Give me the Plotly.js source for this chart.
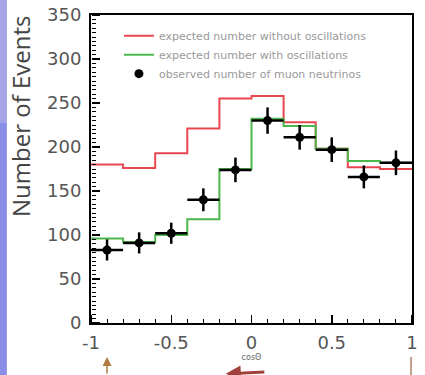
<!DOCTYPE html>
<html>
<head>
<meta charset="utf-8">
<script src="https://cdn.plot.ly/plotly-3.0.1.min.js"></script>
<style>
html,body{margin:0;padding:0;background:#fff;}
#chart{width:425px;height:375px;}
</style>
</head>
<body>
<div id="chart"></div>
<script>
// Bin edges in cos(theta)
const binEdges = [-1, -0.8, -0.6, -0.4, -0.2, 0, 0.2, 0.4, 0.6, 0.8, 1];
const binCenters = [-0.9, -0.7, -0.5, -0.3, -0.1, 0.1, 0.3, 0.5, 0.7, 0.9];
// Expected number without oscillations (red)
const expectedNoOsc = [180, 176, 193, 221, 255, 258, 228, 198, 177, 175];
// Expected number with oscillations (green)
const expectedOsc = [96, 92, 100, 118, 175, 232, 224, 198, 184, 182];
// Observed number of muon neutrinos
const observed = [83, 91, 102, 140, 174, 230, 211, 197, 166, 182];
const observedErr = [12, 12, 12, 13, 14, 15, 14, 14, 13, 14];
const binHalfWidth = [0.1, 0.1, 0.1, 0.1, 0.1, 0.1, 0.1, 0.1, 0.1, 0.1];

const legendNames = [
  "expected number without oscillations",
  "expected number with oscillations",
  "observed number of muon neutrinos"
];
const yTickVals = [0, 50, 100, 150, 200, 250, 300, 350];
const xTickVals = [-1, -0.5, 0, 0.5, 1];
const xTickText = ["-1", "-0.5", "0", "0.5", "1"];

function stepY(vals){ return vals.concat([vals[vals.length-1]]); }

const traces = [
  {
    x: binEdges, y: stepY(expectedNoOsc), type: 'scatter', mode: 'lines',
    line: {shape: 'hv', color: '#e8474f', width: 2},
    name: legendNames[0]
  },
  {
    x: binEdges, y: stepY(expectedOsc), type: 'scatter', mode: 'lines',
    line: {shape: 'hv', color: '#4cb84c', width: 2},
    name: legendNames[1]
  },
  {
    x: binCenters, y: observed, type: 'scatter', mode: 'markers',
    marker: {color: '#000', size: 9},
    error_y: {type: 'data', array: observedErr, color: '#000', thickness: 2.5, width: 0},
    error_x: {type: 'data', array: binHalfWidth, color: '#000', thickness: 2.5, width: 0},
    name: legendNames[2]
  },
  // invisible helper trace so the tick-only overlay axes are drawn
  {
    x: [-1, 1], y: [0, 350], xaxis: 'x2', yaxis: 'y2', type: 'scatter', mode: 'markers',
    marker: {opacity: 0}, showlegend: false, hoverinfo: 'skip'
  }
];

const tickFont = {family: 'DejaVu Sans', size: 18, color: '#555'};

const layout = {
  width: 425, height: 375,
  margin: {l: 91, r: 13, t: 15, b: 52},
  paper_bgcolor: '#fff', plot_bgcolor: '#fff',
  showlegend: true,
  legend: {
    x: 0.087, y: 0.98, xanchor: 'left', yanchor: 'top',
    bgcolor: 'rgba(0,0,0,0)', borderwidth: 0,
    font: {family: 'DejaVu Sans', size: 11, color: '#999'},
    tracegroupgap: 0
  },
  xaxis: {
    range: [-1, 1], tickmode: 'array', tickvals: xTickVals, ticktext: xTickText,
    ticks: '', showgrid: false, zeroline: false,
    showline: true, linecolor: '#000', linewidth: 2, mirror: true,
    tickfont: tickFont, ticklabelstandoff: 2,
    title: {text: 'cosΘ', font: {family: 'DejaVu Sans', size: 8, color: '#666'}, standoff: 2}
  },
  yaxis: {
    range: [0, 350], tickmode: 'array', tickvals: yTickVals,
    ticks: '', showgrid: false, zeroline: false,
    showline: true, linecolor: '#000', linewidth: 2, mirror: true,
    tickfont: tickFont, ticklabelstandoff: 4
  },
  // tick-only axes: drawn on the opposite side at the frame edge, so "outside" ticks point into the plot
  xaxis2: {
    overlaying: 'x', anchor: 'free', position: 0, side: 'top', range: [-1, 1],
    tickmode: 'linear', tick0: -1, dtick: 0.5,
    ticks: 'outside', ticklen: 8, tickwidth: 1.5, tickcolor: '#000',
    minor: {tickmode: 'linear', tick0: -1, dtick: 0.1, ticks: 'outside', ticklen: 4, tickwidth: 1, tickcolor: '#000'},
    showticklabels: false, showgrid: false, zeroline: false, showline: false
  },
  yaxis2: {
    overlaying: 'y', anchor: 'free', position: 0, side: 'right', range: [0, 350],
    tickmode: 'linear', tick0: 0, dtick: 50,
    ticks: 'outside', ticklen: 8, tickwidth: 1.5, tickcolor: '#000',
    minor: {tickmode: 'linear', tick0: 0, dtick: 5, ticks: 'outside', ticklen: 4, tickwidth: 1, tickcolor: '#000'},
    showticklabels: false, showgrid: false, zeroline: false, showline: false
  },
  annotations: [
    {
      text: 'Number of Events', textangle: -90,
      xref: 'paper', yref: 'paper', x: -0.22, y: 0.67,
      xanchor: 'center', yanchor: 'middle', showarrow: false,
      font: {family: 'Open Sans', size: 24, color: '#444'}
    },
    {
      xref: 'paper', yref: 'paper', x: 0.05, y: -0.11, ax: 0, ay: 22,
      text: '', showarrow: true, arrowhead: 2, arrowsize: 1.2, arrowwidth: 1.5, arrowcolor: '#b07a40'
    },
    {
      xref: 'paper', yref: 'paper', x: 0.42, y: -0.165, ax: 40, ay: -2,
      text: '', showarrow: true, arrowhead: 2, arrowsize: 1, arrowwidth: 3, arrowcolor: '#a0403a'
    }
  ],
  shapes: [
    {type: 'rect', xref: 'paper', yref: 'paper', x0: -0.284, x1: -0.262, y0: 0.649, y1: 1.05,
     fillcolor: '#a4a4e6', line: {width: 0}},
    {type: 'rect', xref: 'paper', yref: 'paper', x0: -0.284, x1: -0.262, y0: -0.2, y1: 0.649,
     fillcolor: '#8a8ee8', line: {width: 0}},
    {type: 'line', xref: 'paper', yref: 'paper', x0: 0.997, x1: 0.997, y0: -0.11, y1: -0.18,
     line: {color: '#b08070', width: 1.5}}
  ]
};

Plotly.newPlot('chart', traces, layout, {displayModeBar: false, staticPlot: true});
</script>
</body>
</html>
